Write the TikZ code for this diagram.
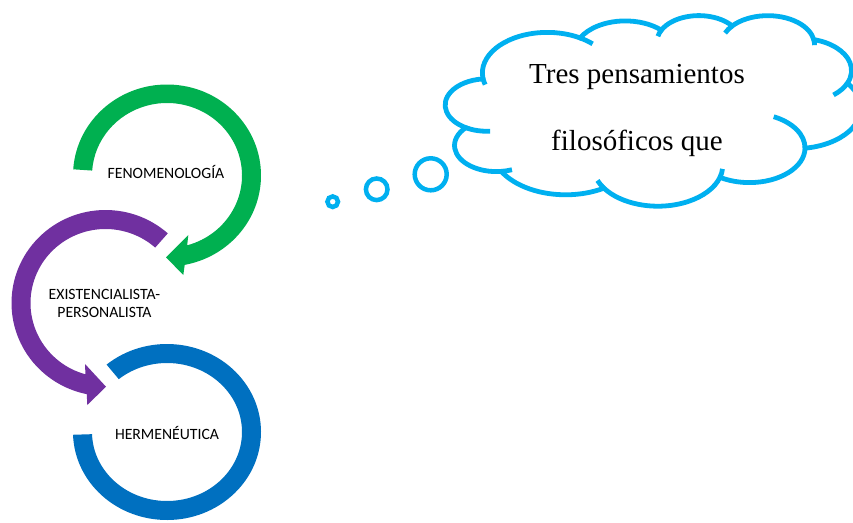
\documentclass[tikz,border=0pt]{standalone}
\usepackage{fontspec}
\usetikzlibrary{calc}
\newfontfamily\labelfont{Carlito}
\newfontfamily\cloudfont{Liberation Serif}
\definecolor{arrowgreen}{HTML}{00B050}
\definecolor{arrowpurple}{HTML}{7030A0}
\definecolor{arrowblue}{HTML}{0070C0}
\definecolor{cloudblue}{HTML}{00B0F0}
\tikzset{
  lbl/.style={font=\labelfont\fontsize{15.7}{18}\selectfont, text=black, inner sep=0pt, anchor=base},
  cloudtext/.style={font=\cloudfont\fontsize{29}{34}\selectfont, text=black, inner sep=0pt, anchor=base},
  cloudline/.style={draw=cloudblue, line width=4.8pt},
  bubble/.style={draw=cloudblue, line width=4.5pt},
}
\begin{document}
\begin{tikzpicture}[x=1pt, y=-1pt]
\useasboundingbox (0,0) rectangle (853,522);
\fill[white] (0,0) rectangle (853,522);

% centres of the three circular arrows
\coordinate (G) at (167,175.5);
\coordinate (P) at (105.5,303);
\coordinate (B) at (167,432);

% green arrow: from the left, over the top, ending with a head at the bottom
\fill[arrowgreen] ($(G)+(183.9:94 and 91)$)
  arc[start angle=183.9, end angle=439.15, x radius=94, y radius=91]
  -- (183.3,275) -- (166,257.3) -- (188.3,235)
  -- ($(G)+(434.4:75 and 72.5)$)
  arc[start angle=434.4, end angle=183.9, x radius=75, y radius=72.5]
  -- cycle;

% purple arrow: from the upper right, round the left, head at the bottom
\fill[arrowpurple] ($(P)+(311.5:94 and 93)$)
  arc[start angle=311.5, end angle=101.5, x radius=94, y radius=93]
  -- (87.3,405) -- (106,386.7) -- (85,364)
  -- ($(P)+(105.5:75 and 74)$)
  arc[start angle=105.5, end angle=311.5, x radius=75, y radius=74]
  -- cycle;

% blue ring: from the upper left, clockwise round to the left
\fill[arrowblue] ($(B)+(230:94 and 88)$)
  arc[start angle=230, end angle=538.2, x radius=94, y radius=88]
  -- ($(B)+(538.2:75 and 69)$)
  arc[start angle=538.2, end angle=230, x radius=75, y radius=69]
  -- cycle;

\node[lbl] (fen) at (166,178) {FENOMENOLOGÍA};
\node[lbl] (ex1) at (104.5,299) {EXISTENCIALISTA-};
\node[lbl] (ex2) at (104.5,317) {PERSONALISTA};
\node[lbl] (her) at (167,439) {HERMENÉUTICA};

% thought bubbles
\draw[bubble] (332.7,201.7) circle[radius=5.3];
\draw[bubble] (376.7,189.3) circle[radius=10.8];
\draw[bubble] (430.7,174.3) circle[radius=16];

% cloud outline built from elliptical bumps
\begin{scope}
\clip (0,0) rectangle (853,522);
\begin{scope}[shift={(445.5,15)}, x=0.9611pt, y=-0.441pt]
\filldraw[cloudline, fill=white] (39.00,143.70)
  arc[start angle=172.25, end angle=300.37, x radius=67.53, y radius=91.90]
  arc[start angle=207.97, end angle=314.54, x radius=53.33, y radius=72.67]
  arc[start angle=206.50, end angle=322.67, x radius=43.65, y radius=59.45]
  arc[start angle=220.28, end angle=349.79, x radius=48.57, y radius=65.95]
  arc[start angle=-74.77, end angle=23.21, x radius=53.33, y radius=72.73]
  arc[start angle=-37.53, end angle=81.86, x radius=67.75, y radius=92.20]
  arc[start angle=0.46, end angle=121.97, x radius=57.85, y radius=78.67]
  arc[start angle=16.84, end angle=146.23, x radius=67.52, y radius=92.15]
  arc[start angle=58.98, end angle=150.20, x radius=77.20, y radius=105.43]
  arc[start angle=83.31, end angle=223.11, x radius=43.60, y radius=59.18]
  arc[start angle=120.35, end angle=264.11, x radius=43.45, y radius=59.45]
  -- cycle;
% inner creases continuing the bumps
\draw[cloudline] ($(43.07,204.18)+(85.55:43.45 and 59.45)$) arc[start angle=85.55, end angle=120.35, x radius=43.45, y radius=59.45];
\draw[cloudline] ($(52.96,295.90)+(68.23:43.60 and 59.18)$) arc[start angle=68.23, end angle=83.31, x radius=43.60, y radius=59.18];
\draw[cloudline] ($(220.94,341.42)+(146.23:67.52 and 92.15)$) arc[start angle=146.23, end angle=158.48, x radius=67.52, y radius=92.15];
\draw[cloudline] ($(220.94,341.42)+(4.74:67.52 and 92.15)$) arc[start angle=4.74, end angle=16.84, x radius=67.52, y radius=92.15];
\draw[cloudline] ($(316.19,301.37)+(-64.03:57.85 and 78.67)$) arc[start angle=-64.03, end angle=0.46, x radius=57.85, y radius=78.67];
\draw[cloudline] ($(369.17,125.91)+(23.21:53.33 and 72.73)$) arc[start angle=23.21, end angle=49.64, x radius=53.33, y radius=72.73];
\draw[cloudline] ($(335.38,67.42)+(-10.21:48.57 and 65.95)$) arc[start angle=-10.21, end angle=0.82, x radius=48.57, y radius=65.95];
\draw[cloudline] ($(335.38,67.42)+(-156.29:48.57 and 65.95)$) arc[start angle=-156.29, end angle=-139.72, x radius=48.57, y radius=65.95];
\draw[cloudline] ($(263.62,60.83)+(-167.73:43.65 and 59.45)$) arc[start angle=-167.73, end angle=-153.50, x radius=43.65, y radius=59.45];
\draw[cloudline] ($(105.91,131.31)+(-59.63:67.53 and 91.90)$) arc[start angle=-59.63, end angle=-45.75, x radius=67.53, y radius=91.90];
\draw[cloudline] ($(105.91,131.31)+(163.19:67.53 and 91.90)$) arc[start angle=163.19, end angle=172.25, x radius=67.53, y radius=91.90];
\end{scope}
\end{scope}

\node[cloudtext] (t1) at (637,83) {Tres pensamientos};
\node[cloudtext] (t2) at (637,150.5) {filosóficos que};
\end{tikzpicture}
\end{document}
